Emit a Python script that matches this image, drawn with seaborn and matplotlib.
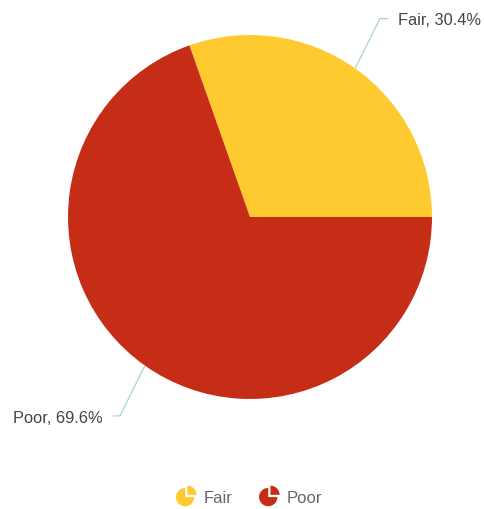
import matplotlib
matplotlib.use("Agg")
import numpy as np
import matplotlib.pyplot as plt
from matplotlib.patches import Wedge
from matplotlib.legend_handler import HandlerBase
import seaborn as sns

categories = ["Fair", "Poor"]
shares = [30.4, 69.6]
colors = ["#FFCA30", "#C62D17"]

sns.set_theme(style="white")
plt.rcParams["font.family"] = ["Liberation Sans", "DejaVu Sans"]

fig = plt.figure(figsize=(4.85, 5.10), dpi=100)
ax = fig.add_axes([68 / 485, 110 / 510, 364 / 485, 364 / 510])

wedges, _ = ax.pie(shares, colors=colors, startangle=0, counterclock=True,
                   radius=1.0, wedgeprops=dict(linewidth=0))
ax.set_xlim(-1, 1)
ax.set_ylim(-1, 1)
ax.set_aspect("auto")
ax.axis("off")

# callout labels with elbow leader lines
line_color = "#A9D1DA"
label_specs = [
    # (elbow_x, elbow_y, end_x, text_x, ha)
    (0.714, 1.090, 0.760, 0.812, "left"),
    (-0.714, -1.093, -0.753, -0.808, "right"),
]
for cat, val, w, spec in zip(categories, shares, wedges, label_specs):
    mid = (w.theta1 + w.theta2) / 2.0
    px, py = np.cos(np.radians(mid)), np.sin(np.radians(mid))
    ex, ey, hx, tx, ha = spec
    ax.plot([px, ex, hx], [py, ey, ey], color=line_color, lw=0.9,
            clip_on=False, solid_capstyle="butt")
    ax.text(tx, ey - 0.006, f"{cat}, {val}%", ha=ha, va="center",
            fontsize=11.8, color="#444444", clip_on=False)


class PieIconHandler(HandlerBase):
    def create_artists(self, legend, orig_handle, xdescent, ydescent,
                       width, height, fontsize, trans):
        cx = width / 2 - xdescent - 1.0
        cy = height / 2 - ydescent - 0.5
        r = 6.6
        col = orig_handle.get_facecolor()
        body = Wedge((cx, cy), r, 90, 360, facecolor=col, edgecolor="none",
                     transform=trans)
        off = 1.6
        piece = Wedge((cx + off, cy + off), r, 0, 90, facecolor=col,
                      edgecolor="none", transform=trans)
        return [body, piece]


handles = [Wedge((0, 0), 1, 0, 90, facecolor=c) for c in colors]
leg = fig.legend(handles, categories, loc="center",
                 bbox_to_anchor=(250 / 485, 1 - 498 / 510), ncol=2,
                 frameon=False, fontsize=12, handlelength=1.0,
                 handleheight=1.0, handletextpad=0.5, columnspacing=1.75,
                 handler_map={Wedge: PieIconHandler()})
for t in leg.get_texts():
    t.set_color("#666666")

fig.savefig("out.png", dpi=100)
